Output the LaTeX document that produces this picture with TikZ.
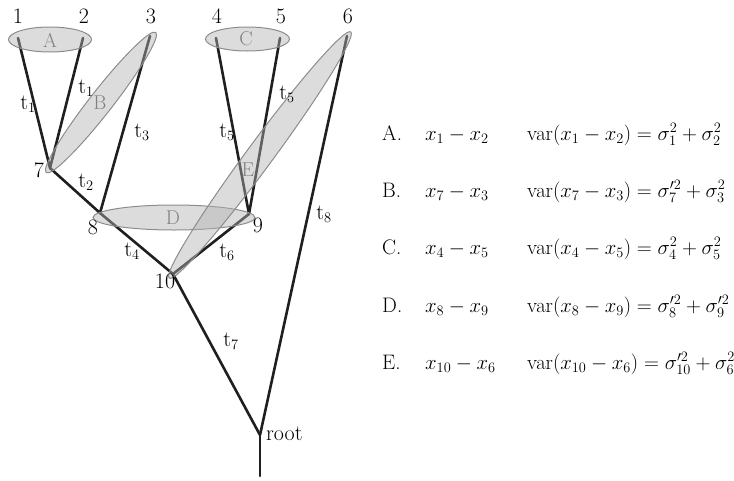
\documentclass[tikz,border=0pt]{standalone}
\usetikzlibrary{calc}
\begin{document}
\begin{tikzpicture}[x=1pt,y=-1pt,
  branch/.style={line width=2.6pt,draw=black!88,line cap=round},
  grp/.style={draw=black!45,line width=1pt,fill=black!30,fill opacity=0.45},
  grplab/.style={text=black!50,font=\fontsize{20}{22}\selectfont},
  lab/.style={font=\fontsize{22}{24}\selectfont,inner sep=0pt},
  row/.style={font=\fontsize{21}{24}\selectfont,anchor=base west,inner sep=0pt}]
\useasboundingbox (0,0) rectangle (734,480);
% vertices
\coordinate (l1) at (18,38);
\coordinate (l2) at (83,38);
\coordinate (l3) at (150,36);
\coordinate (l4) at (216,38);
\coordinate (l5) at (280,38);
\coordinate (l6) at (347,36);
\coordinate (n7) at (50,168);
\coordinate (n8) at (100,213);
\coordinate (n9) at (249,214);
\coordinate (n10) at (173,274);
\coordinate (rt) at (260,435);
\coordinate (bot) at (260,476);
% branches
\draw[branch] (l1) -- (n7);
\draw[branch] (l2) -- (n7);
\draw[branch] (l3) -- (n8);
\draw[branch] (n7) -- (n8);
\draw[branch] (l4) -- (n9);
\draw[branch] (l5) -- (n9);
\draw[branch] (n8) -- (n10);
\draw[branch] (n9) -- (n10);
\draw[branch] (n10) -- (rt);
\draw[branch] (l6) -- (rt);
\draw[branch] (rt) -- (bot);
% groups
\draw[grp] (50,39.5) ellipse [x radius=41.5, y radius=12.5];
\draw[grp] (247.5,39) ellipse [x radius=42, y radius=12];
\draw[grp] (174,217.5) ellipse [x radius=81, y radius=12.5];
\draw[grp,rotate around={52:(101,102.5)}] (101,102.5) ellipse [x radius=89, y radius=11.5];
\draw[grp,rotate around={53.6:(260,155)}] (260,155) ellipse [x radius=153, y radius=13];
\node[grplab] (gA) at (50,40) {A};
\node[grplab] (gB) at (100,103) {B};
\node[grplab] (gC) at (246,39) {C};
\node[grplab] (gD) at (173,218) {D};
\node[grplab] (gE) at (248,170) {E};
% tip labels
\node[lab] (t1lab) at (18,16) {1};
\node[lab] (t2lab) at (84,16) {2};
\node[lab] (t3lab) at (151,16) {3};
\node[lab] (t4lab) at (217,16) {4};
\node[lab] (t5lab) at (281,16) {5};
\node[lab] (t6lab) at (348,16) {6};
\node[lab] (v7) at (39,170) {7};
\node[lab] (v8) at (93,227) {8};
\node[lab] (v9) at (258,225) {9};
\node[lab] (v10) at (165,281) {10};
\node[lab,anchor=west] (vroot) at (266,434) {root};
% branch labels
\node[lab] (b1a) at (28,104) {t$_1$};
\node[lab] (b1b) at (86,88) {t$_1$};
\node[lab] (b3) at (142,132) {t$_3$};
\node[lab] (b2) at (86,182) {t$_2$};
\node[lab] (b5a) at (227,132) {t$_5$};
\node[lab] (b5b) at (287,94) {t$_5$};
\node[lab] (b8) at (324,214) {t$_8$};
\node[lab] (b4) at (132,251) {t$_4$};
\node[lab] (b6) at (227,252) {t$_6$};
\node[lab] (b7) at (231,341) {t$_7$};
% table
\node[row] (rA) at (382,140) {A.};
\node[row] (dA) at (425,140) {$x_1 - x_2$};
\node[row] (vA) at (527,140) {$\mathrm{var}(x_1 - x_2) = \sigma_1^2 + \sigma_2^2$};
\node[row] (rB) at (382,197) {B.};
\node[row] (dB) at (425,197) {$x_7 - x_3$};
\node[row] (vB) at (527,197) {$\mathrm{var}(x_7 - x_3) = \sigma_7^{\prime 2} + \sigma_3^2$};
\node[row] (rC) at (382,254) {C.};
\node[row] (dC) at (425,254) {$x_4 - x_5$};
\node[row] (vC) at (527,254) {$\mathrm{var}(x_4 - x_5) = \sigma_4^2 + \sigma_5^2$};
\node[row] (rD) at (382,312) {D.};
\node[row] (dD) at (425,312) {$x_8 - x_9$};
\node[row] (vD) at (527,312) {$\mathrm{var}(x_8 - x_9) = \sigma_8^{\prime 2} + \sigma_9^{\prime 2}$};
\node[row] (rE) at (382,369) {E.};
\node[row] (dE) at (425,369) {$x_{10} - x_6$};
\node[row] (vE) at (527,369) {$\mathrm{var}(x_{10} - x_6) = \sigma_{10}^{\prime 2} + \sigma_6^2$};
\end{tikzpicture}
\end{document}
